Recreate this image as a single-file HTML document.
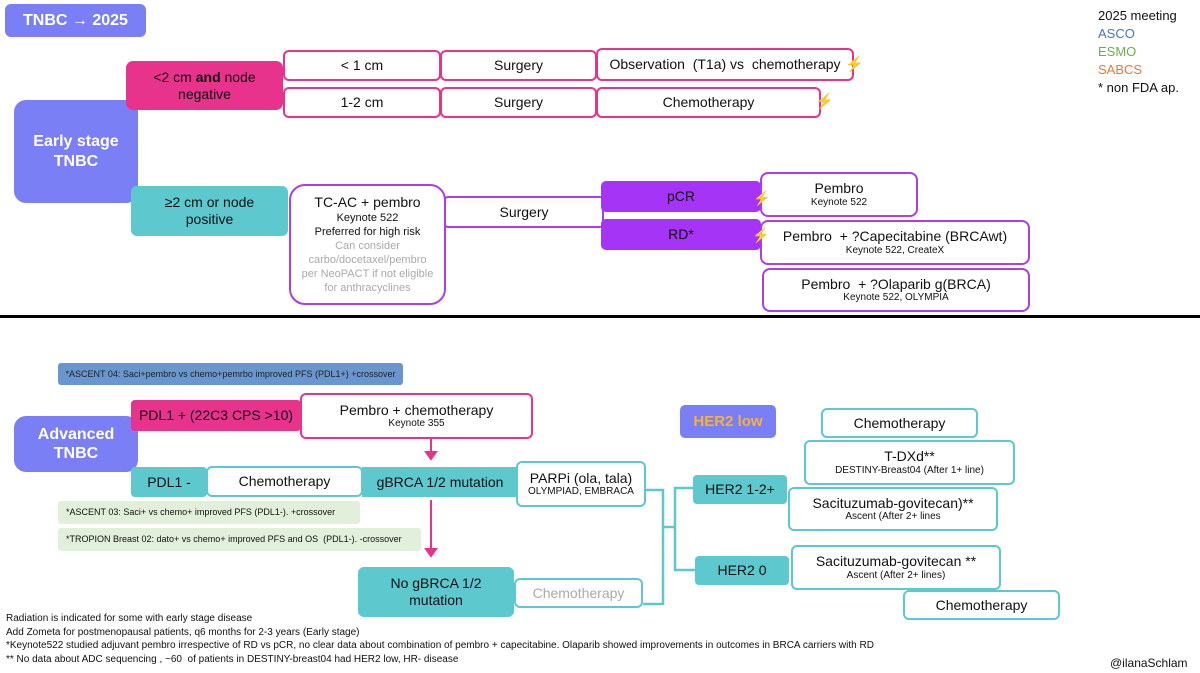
<!DOCTYPE html>
<html><head><meta charset="utf-8"><style>
body{margin:0;width:1200px;height:673px;background:#fff;position:relative;overflow:hidden;font-family:"Liberation Sans",sans-serif;color:#111}
.b{position:absolute;box-sizing:border-box;display:flex;flex-direction:column;align-items:center;justify-content:center;text-align:center;font-size:14px;line-height:1.2}
.pk{border:2.5px solid #e8338c;border-radius:6px;background:#fff}
.vi{border:2.5px solid #a93df2;border-radius:8px;background:#fff}
.tl{border:2.5px solid #5ec8cf;border-radius:6px;background:#fff}
.fpk{background:#e8338c;border-radius:7px}
.fvi{background:#a634f6;border-radius:5px}
.ftl{background:#5ec8cf;border-radius:6px}
.fpu{background:#7b7ff5;border-radius:12px;color:#fff;font-weight:bold}
.s{font-size:10px}
.t{position:absolute;white-space:nowrap}
</style></head><body>
<div class="b fpu" style="left:5px;top:4px;width:141px;height:33px;border-radius:6px;font-size:16px"><div>TNBC → 2025</div></div>
<div class="b fpu" style="left:14px;top:100px;width:124px;height:103px;font-size:16px"><div>Early stage<br>TNBC</div></div>
<div class="b fpk" style="left:126px;top:61px;width:157px;height:49px"><div>&lt;2 cm <b>and</b> node<br>negative</div></div>
<div class="b pk" style="left:283px;top:50px;width:158px;height:31px">&lt; 1 cm</div>
<div class="b pk" style="left:440px;top:50px;width:157px;height:31px">Surgery</div>
<div class="b pk" style="left:596px;top:48px;width:258px;height:33px">Observation &nbsp;(T1a) vs &nbsp;chemotherapy</div>
<div class="b pk" style="left:283px;top:87px;width:158px;height:31px">1-2 cm</div>
<div class="b pk" style="left:440px;top:87px;width:157px;height:31px">Surgery</div>
<div class="b pk" style="left:596px;top:87px;width:225px;height:31px">Chemotherapy</div>
<div class="t" style="left:845px;top:55px;color:#f06030;font-size:15px">⚡</div>
<div class="t" style="left:815px;top:92px;color:#f06030;font-size:15px">⚡</div>
<div class="b ftl" style="left:131px;top:186px;width:157px;height:50px"><div>≥2 cm or node<br>positive</div></div>
<div class="b vi" style="left:289px;top:184px;width:157px;height:121px;border-radius:16px;font-size:14px"><div>TC-AC + pembro</div><div style="font-size:11px;line-height:14px">Keynote 522<br>Preferred for high risk</div><div style="font-size:11px;line-height:14px;color:#aaa">Can consider<br>carbo/docetaxel/pembro<br>per NeoPACT if not eligible<br>for anthracyclines</div></div>
<div class="b vi" style="left:444px;top:196px;width:160px;height:32px;border-radius:4px">Surgery</div>
<div class="b fvi" style="left:601px;top:181px;width:160px;height:31px">pCR</div>
<div class="b fvi" style="left:601px;top:219px;width:160px;height:31px">RD*</div>
<div class="b vi" style="left:760px;top:172px;width:158px;height:45px"><div>Pembro</div><div class="s">Keynote 522</div></div>
<div class="b vi" style="left:760px;top:220px;width:270px;height:45px"><div>Pembro &nbsp;+ ?Capecitabine (BRCAwt)</div><div class="s">Keynote 522, CreateX</div></div>
<div class="b vi" style="left:762px;top:268px;width:268px;height:44px"><div>Pembro &nbsp;+ ?Olaparib g(BRCA)</div><div class="s">Keynote 522, OLYMPIA</div></div>
<div class="t" style="left:753px;top:190px;color:#f06030;font-size:14px">⚡</div>
<div class="t" style="left:752px;top:227px;color:#f06030;font-size:14px">⚡</div>
<div class="t" style="left:1098px;top:7px;font-size:13px;line-height:18px">2025 meeting<br><span style="color:#4a72c8">ASCO</span><br><span style="color:#6fae47">ESMO</span><br><span style="color:#e07a3c">SABCS</span><br>* non FDA ap.</div>
<div style="position:absolute;left:0;top:315px;width:1200px;height:3px;background:#000"></div>
<div class="b" style="left:58px;top:363px;width:345px;height:22px;background:#6a96d0;border-radius:3px;font-size:9px;color:#222">*ASCENT 04: Saci+pembro vs chemo+pemrbo improved PFS (PDL1+) +crossover</div>
<div class="b fpu" style="left:14px;top:416px;width:124px;height:56px;font-size:16px"><div>Advanced<br>TNBC</div></div>
<div class="b fpk" style="left:131px;top:400px;width:170px;height:31px;border-radius:4px">PDL1 + (22C3 CPS &gt;10)</div>
<div class="b pk" style="left:300px;top:393px;width:233px;height:46px"><div>Pembro + chemotherapy</div><div class="s">Keynote 355</div></div>
<div class="b ftl" style="left:131px;top:467px;width:76px;height:30px;border-radius:4px">PDL1 -</div>
<div class="b tl" style="left:206px;top:466px;width:157px;height:31px">Chemotherapy</div>
<div class="b ftl" style="left:362px;top:467px;width:156px;height:30px;border-radius:0">gBRCA 1/2 mutation</div>
<div class="b tl" style="left:516px;top:461px;width:130px;height:46px"><div>PARPi (ola, tala)</div><div class="s">OLYMPIAD, EMBRACA</div></div>
<div class="b" style="left:58px;top:501px;width:302px;height:23px;background:#e2efda;border-radius:3px;font-size:9px;align-items:flex-start;padding-left:8px">*ASCENT 03: Saci+ vs chemo+ improved PFS (PDL1-). +crossover</div>
<div class="b" style="left:58px;top:528px;width:363px;height:23px;background:#e2efda;border-radius:3px;font-size:9px;align-items:flex-start;padding-left:8px">*TROPION Breast 02: dato+ vs chemo+ improved PFS and OS &nbsp;(PDL1-). -crossover</div>
<svg style="position:absolute;left:0;top:0" width="1200" height="673">
<g stroke="#e8338c" stroke-width="2" fill="#e8338c"><line x1="431" y1="439" x2="431" y2="452"/><polygon points="426,452 436,452 431,459" /><line x1="431" y1="500" x2="431" y2="549"/><polygon points="426,549 436,549 431,556"/></g>
<g stroke="#5ec8cf" stroke-width="2.5" fill="none"><polyline points="646,490 663,490 663,604 643,604"/><line x1="663" y1="527" x2="675" y2="527"/><polyline points="693,488 675,488 675,570 695,570"/></g>
</svg>
<div class="b ftl" style="left:358px;top:567px;width:156px;height:50px"><div>No gBRCA 1/2<br>mutation</div></div>
<div class="b tl" style="left:514px;top:578px;width:129px;height:30px;color:#aaa">Chemotherapy</div>
<div class="b fpu" style="left:680px;top:405px;width:96px;height:33px;border-radius:5px;color:#f5b335;font-size:15px">HER2 low</div>
<div class="b tl" style="left:821px;top:408px;width:157px;height:30px">Chemotherapy</div>
<div class="b tl" style="left:804px;top:440px;width:211px;height:45px"><div>T-DXd**</div><div class="s">DESTINY-Breast04 (After 1+ line)</div></div>
<div class="b tl" style="left:788px;top:487px;width:210px;height:44px"><div>Sacituzumab-govitecan)**</div><div class="s">Ascent (After 2+ lines</div></div>
<div class="b ftl" style="left:693px;top:475px;width:94px;height:29px;border-radius:4px">HER2 1-2+</div>
<div class="b ftl" style="left:695px;top:556px;width:94px;height:29px;border-radius:4px">HER2 0</div>
<div class="b tl" style="left:791px;top:545px;width:210px;height:45px"><div>Sacituzumab-govitecan **</div><div class="s">Ascent (After 2+ lines)</div></div>
<div class="b tl" style="left:903px;top:590px;width:157px;height:30px">Chemotherapy</div>
<div class="t" style="left:6px;top:612px;font-size:10px;line-height:13.5px">Radiation is indicated for some with early stage disease<br>Add Zometa for postmenopausal patients, q6 months for 2-3 years (Early stage)<br>*Keynote522 studied adjuvant pembro irrespective of RD vs pCR, no clear data about combination of pembro + capecitabine. Olaparib showed improvements in outcomes in BRCA carriers with RD<br>** No data about ADC sequencing , ~60 &nbsp;of patients in DESTINY-breast04 had HER2 low, HR- disease</div>
<div class="t" style="left:1110px;top:656px;font-size:12px">@ilanaSchlam</div>
</body></html>
